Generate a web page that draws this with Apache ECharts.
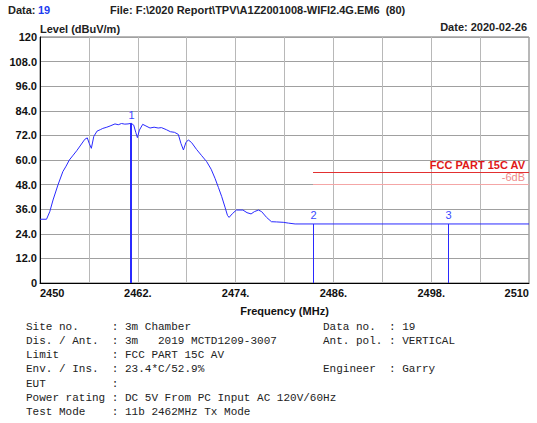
<!DOCTYPE html>
<html lang="en">
<head>
    <meta charset="UTF-8">
    <title>Radiated emission - FCC PART 15C AV</title>
    <script type="text/javascript" src="https://cdn.jsdelivr.net/npm/echarts/dist/echarts.min.js"></script>
    <style>
        body { margin: 0; background: #fff; }
    </style>
</head>
<body>
    <div id="main" style="width: 537px; height: 423px"></div>
    <script>
        // trace (MHz / dBuV/m)
        var freq = [2450.0, 2450.8, 2451.2, 2451.6, 2452.2, 2452.8, 2453.2, 2453.6, 2454.0, 2454.5,
            2455.0, 2455.5, 2455.8, 2456.05, 2456.3, 2456.6, 2457.0, 2457.4, 2457.7, 2458.2,
            2458.6, 2459.2, 2459.6, 2460.0, 2460.4, 2460.8, 2461.2, 2461.5, 2461.75, 2461.95,
            2462.2, 2462.6, 2463.0, 2463.5, 2464.0, 2464.5, 2464.9, 2465.5, 2466.0, 2466.5,
            2466.97, 2467.3, 2467.6, 2467.9, 2468.2, 2468.6, 2469.2, 2469.8, 2470.45, 2471.0,
            2471.47, 2471.9, 2472.3, 2472.7, 2473.0, 2473.2, 2473.6, 2474.1, 2474.9, 2475.4,
            2475.9, 2476.3, 2476.8, 2477.2, 2477.8, 2478.4, 2479.0, 2479.85, 2480.5, 2481.3,
            2510.0];
        var level = [31.1, 31.1, 34.8, 40.5, 47.8, 54.3, 57.0, 60.0, 62.0, 64.5,
            67.3, 70.1, 70.8, 68.0, 65.7, 71.5, 74.1, 74.8, 75.4, 76.0,
            76.6, 77.6, 77.2, 77.8, 77.5, 77.6, 77.9, 77.0, 73.5, 70.9,
            74.6, 77.4, 76.6, 75.6, 76.0, 75.6, 75.8, 74.8, 73.8, 73.5,
            72.5, 68.0, 64.9, 68.5, 69.8, 68.5, 65.2, 62.3, 59.2, 55.5,
            51.1, 46.5, 42.1, 37.0, 33.0, 32.0, 33.8, 35.6, 35.6, 34.3,
            33.7, 34.8, 35.6, 34.8, 32.0, 29.9, 29.8, 29.6, 29.2, 28.8,
            28.8];

        var markerNames = ['1', '2', '3'];
        var markerFreq = [2461.2, 2483.5, 2500.0];
        var markerLevel = [77.9, 28.8, 28.8];

        var limitName = 'FCC PART 15C AV';
        var limitStart = 2483.5;
        var limitEnd = 2510;
        var limitLevel = 54;
        var marginName = '-6dB';
        var marginLevel = 48;

        var xLabelValues = [2450, 2462, 2474, 2486, 2498, 2510];
        var xLabelTexts = ['2450', '2462.', '2474.', '2486.', '2498.', '2510'];
        var yTickLabels = ['0', '12.0', '24.0', '36.0', '48.0', '60.0', '72.0', '84.0', '96.0', '108.0', '120'];

        var infoLeft = [
            'Site no.     : 3m Chamber',
            'Dis. / Ant.  : 3m   2019 MCTD1209-3007',
            'Limit        : FCC PART 15C AV',
            'Env. / Ins.  : 23.4*C/52.9%',
            'EUT          :',
            'Power rating : DC 5V From PC Input AC 120V/60Hz',
            'Test Mode    : 11b 2462MHz Tx Mode'
        ];
        var infoRight = ['Data no.  : 19', 'Ant. pol. : VERTICAL', '', 'Engineer  : Garry', '', '', ''];

        var font = "'Liberation Sans', Arial, sans-serif";
        var mono = "'Liberation Mono', 'Courier New', monospace";
        var markerColor = '#2a2aff';

        var trace = freq.map(function (f, i) { return [f, level[i]]; });
        var markers = markerFreq.map(function (f, i) { return [f, markerLevel[i], i]; });

        var graphics = [
            {type: 'text', left: 8, top: 4, style: {text: 'Data:', font: 'bold 11px ' + font, fill: '#222'}},
            {type: 'text', left: 38, top: 4, style: {text: '19', font: 'bold 11px ' + font, fill: '#1c3cf0'}},
            {type: 'text', left: 110, top: 4, style: {text: 'File: F:\\2020 Report\\TPV\\A1Z2001008-WIFI2.4G.EM6  (80)', font: 'bold 11px ' + font, fill: '#222'}},
            {type: 'text', left: 40, top: 23, style: {text: 'Level (dBuV/m)', font: 'bold 11px ' + font, fill: '#222'}},
            {type: 'text', right: 10, top: 21, style: {text: 'Date: 2020-02-26', font: 'bold 11px ' + font, fill: '#222'}}
        ];
        infoLeft.forEach(function (t, i) {
            graphics.push({type: 'text', left: 26, top: 321 + i * 14.3, style: {text: t, font: '11px ' + mono, fill: '#222'}});
        });
        infoRight.forEach(function (t, i) {
            if (t) graphics.push({type: 'text', left: 323, top: 321 + i * 14.3, style: {text: t, font: '11px ' + mono, fill: '#222'}});
        });

        var myChart = echarts.init(document.getElementById('main'), null, {renderer: 'svg'});
        myChart.setOption({
            animation: false,
            backgroundColor: '#fff',
            textStyle: {fontFamily: font},
            grid: {
                left: 40,
                right: 8,
                top: 37,
                bottom: 140,
                outerBoundsMode: 'none',
                containLabel: false,
                show: true,
                borderColor: '#707070',
                borderWidth: 1
            },
            xAxis: {
                type: 'value',
                min: 2450,
                max: 2510,
                interval: 6,
                name: 'Frequency (MHz)',
                nameLocation: 'middle',
                nameGap: 22,
                nameTextStyle: {fontWeight: 'bold', fontSize: 11, color: '#111'},
                axisLine: {lineStyle: {color: '#000'}},
                axisTick: {show: false},
                axisLabel: {
                    margin: 4,
                    fontWeight: 'bold',
                    fontSize: 11,
                    color: '#111',
                    alignMinLabel: 'left',
                    alignMaxLabel: 'right',
                    formatter: function (v) {
                        var k = xLabelValues.indexOf(Math.round(v));
                        return k < 0 ? '' : xLabelTexts[k];
                    }
                },
                splitLine: {show: true, lineStyle: {color: '#b8b8b8', width: 1}}
            },
            yAxis: {
                type: 'value',
                min: 0,
                max: 120,
                interval: 12,
                axisLine: {show: true, lineStyle: {color: '#000'}},
                axisTick: {show: false},
                axisLabel: {
                    margin: 3,
                    fontWeight: 'bold',
                    fontSize: 11,
                    color: '#111',
                    formatter: function (v) {
                        return yTickLabels[Math.round(v / 12)];
                    }
                },
                splitLine: {show: true, lineStyle: {color: '#a0a0a0', width: 1}}
            },
            graphic: graphics,
            series: [{
                name: 'trace',
                type: 'line',
                data: trace,
                showSymbol: false,
                lineStyle: {color: '#2a2aff', width: 1},
                itemStyle: {color: '#2a2aff'},
                z: 3
            }, {
                name: 'markers',
                type: 'custom',
                data: markers,
                z: 4,
                renderItem: function (params, api) {
                    var bottom = api.coord([api.value(0), 0]);
                    var top = api.coord([api.value(0), api.value(1)]);
                    var idx = api.value(2);
                    var w = idx === 0 ? 2 : 1;
                    var x = Math.round(bottom[0]);
                    // drawn as a filled thin rect, stem from 0 up to the trace level
                    return {
                        type: 'group',
                        children: [{
                            type: 'rect',
                            shape: {x: x - (w === 2 ? 1 : 0), y: top[1], width: w, height: bottom[1] - top[1]},
                            style: {fill: markerColor, stroke: null}
                        }, {
                            type: 'text',
                            style: {
                                text: markerNames[idx],
                                x: x + 0.5,
                                y: top[1] - 3,
                                align: 'center',
                                verticalAlign: 'bottom',
                                fill: '#3a4aff',
                                font: '11px ' + font
                            }
                        }]
                    };
                }
            }, {
                name: 'limit',
                type: 'line',
                data: [],
                markLine: {
                    silent: true,
                    symbol: 'none',
                    data: [
                        [
                            {coord: [limitStart, limitLevel], lineStyle: {color: '#e23030', width: 1, type: 'solid'},
                                label: {show: true, position: 'insideEndTop', distance: [4, 2], formatter: limitName,
                                    color: '#e01818', fontWeight: 'bold', fontSize: 11}},
                            {coord: [limitEnd, limitLevel]}
                        ],
                        [
                            {coord: [limitStart, marginLevel], lineStyle: {color: '#f4a6a6', width: 1, type: 'solid'},
                                label: {show: true, position: 'insideEndTop', distance: [4, 2], formatter: marginName,
                                    color: '#f08a8a', fontSize: 11}},
                            {coord: [limitEnd, marginLevel]}
                        ]
                    ]
                }
            }]
        });
    </script>
</body>
</html>
